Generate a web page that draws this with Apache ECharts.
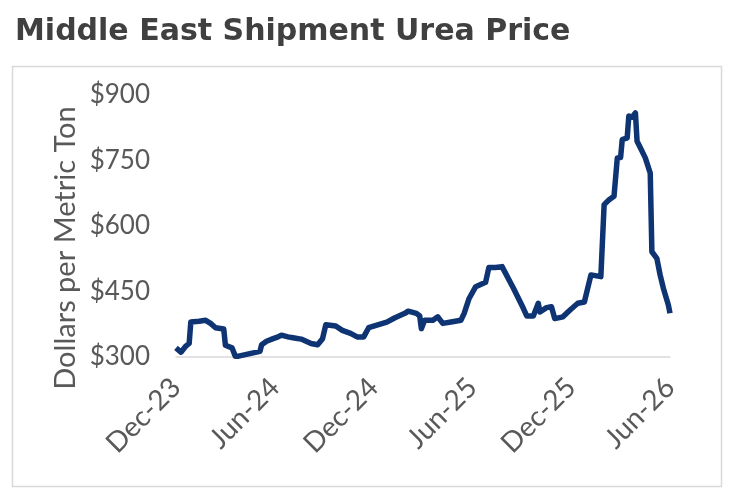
<!DOCTYPE html>
<html>
<head>
<meta charset="utf-8">
<script src="https://cdn.jsdelivr.net/npm/echarts@6/dist/echarts.min.js"></script>
<style>
  html, body { margin: 0; padding: 0; background: #fff; }
  #chart { width: 735px; height: 501px; }
</style>
</head>
<body>
<div id="chart"></div>
<script>
// x tick labels, one every 6 months starting Dec-23
const tickLabels = ['Dec-23', 'Jun-24', 'Dec-24', 'Jun-25', 'Dec-25', 'Jun-26'];

// months since Dec-23
const months = [
  0, 0.3, 0.6, 0.8, 0.9, 1.4, 1.8, 2.1, 2.4, 2.9, 3.0, 3.4, 3.6, 3.8,
  5.1, 5.2, 5.5, 5.9, 6.2, 6.4, 6.8, 7.1, 7.6, 7.9, 8.2, 8.6, 8.9, 9.1, 9.7, 10.1, 10.6,
  11.0, 11.4, 11.7, 12.2, 12.8, 13.3, 13.9, 14.1, 14.6, 14.8, 14.9, 15.1,
  15.6, 15.9, 16.2, 16.7, 17.3, 17.5, 17.8, 18.2, 18.8, 19.0, 19.4, 19.8,
  20.5, 21.1, 21.3, 21.7, 22.0, 22.1, 22.5, 22.8, 23.0, 23.5, 23.8, 24.0,
  24.4, 24.8, 25.0, 25.2, 25.8, 26.0, 26.3, 26.6, 26.8, 27.0, 27.1, 27.4,
  27.5, 27.7, 27.9, 28.0, 28.2, 28.5, 28.8, 28.9, 29.2, 29.4, 29.6, 29.7,
  29.9, 30.0
];

// urea price, $ per metric ton
const prices = [
  321, 311, 325, 331, 380, 382, 384, 377, 367, 364, 327, 321, 302, 302,
  313, 328, 336, 342, 346, 350, 346, 344, 341, 336, 331, 328, 342, 374, 371, 361, 354,
  346, 346, 367, 373, 380, 390, 400, 405, 400, 394, 365, 384,
  384, 392, 377, 380, 384, 400, 434, 461, 471, 505, 505, 507,
  457, 411, 394, 394, 423, 403, 413, 415, 388, 392, 403, 410,
  423, 426, 457, 488, 484, 649, 660, 668, 756, 757, 798, 802,
  852, 849, 859, 794, 779, 756, 721, 541, 526, 488, 457, 453,
  419, 400
];

const yTicks = [300, 450, 600, 750, 900];

const chart = echarts.init(document.getElementById('chart'));
const textFont = 'Lato, "Open Sans", sans-serif';

chart.setOption({
  animation: false,
  title: {
    text: 'Middle East Shipment Urea Price',
    left: 10,
    top: 12,
    textStyle: {
      fontFamily: '"DejaVu Sans", sans-serif',
      fontWeight: 'bold',
      fontSize: 30,
      color: '#404040'
    }
  },
  graphic: [
    {
      type: 'rect',
      shape: { x: 12.5, y: 66.5, width: 709, height: 420 },
      style: { fill: 'none', stroke: '#d9d9d9', lineWidth: 1.5 },
      silent: true
    },
    {
      type: 'text',
      x: 66,
      y: 248,
      rotation: Math.PI / 2,
      style: {
        text: 'Dollars per Metric Ton',
        fontFamily: textFont,
        fontSize: 29,
        fill: '#595959',
        align: 'center',
        verticalAlign: 'middle'
      }
    }
  ],
  grid: { left: 176, right: 65, top: 95, bottom: 144 },
  xAxis: {
    type: 'value',
    min: 0,
    max: 30,
    interval: 6,
    axisLine: { show: true, lineStyle: { color: '#d9d9d9', width: 1.5 } },
    axisTick: { show: false },
    splitLine: { show: false },
    axisLabel: {
      rotate: 45,
      margin: 26,
      fontFamily: textFont,
      fontSize: 28,
      color: '#595959',
      formatter: v => tickLabels[Math.round(v / 6)] || ''
    }
  },
  yAxis: {
    type: 'value',
    min: yTicks[0],
    max: yTicks[yTicks.length - 1],
    interval: 150,
    axisLine: { show: false },
    axisTick: { show: false },
    splitLine: { show: false },
    axisLabel: {
      margin: 26,
      fontFamily: textFont,
      fontSize: 26,
      color: '#595959',
      formatter: v => '$' + v
    }
  },
  series: [
    {
      type: 'line',
      data: months.map((m, i) => [m, prices[i]]),
      showSymbol: false,
      lineStyle: { color: '#0e3473', width: 5.5, join: 'round' },
      itemStyle: { color: '#0e3473' }
    }
  ]
});
</script>
</body>
</html>
